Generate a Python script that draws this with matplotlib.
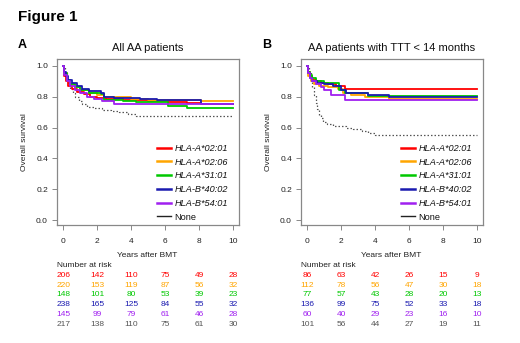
import matplotlib
matplotlib.use("Agg")
import matplotlib.pyplot as plt
from matplotlib.lines import Line2D
from matplotlib.transforms import blended_transform_factory

plt.rcParams['font.family'] = ['Liberation Sans', 'DejaVu Sans']

labels = ["HLA-A*02:01", "HLA-A*02:06", "HLA-A*31:01", "HLA-B*40:02", "HLA-B*54:01", "None"]
colors = ["#FF0000", "#FFA500", "#00C800", "#1A1AB0", "#A020F0", "#555555"]
risk_times = [0, 2, 4, 6, 8, 10]

# Panel A: all AA patients (time in years, survival)
a_red_t = [0, 0.05, 0.15, 0.3, 0.5, 0.8, 1.2, 1.6, 2.0, 2.5, 3.5, 5.0, 6.2, 7.3, 8.1, 10]
a_red_s = [1, 0.93, 0.90, 0.87, 0.85, 0.83, 0.815, 0.80, 0.79, 0.785, 0.775, 0.77, 0.765, 0.76, 0.75, 0.75]
a_orange_t = [0, 0.05, 0.2, 0.4, 0.7, 1.0, 1.5, 2.0, 2.4, 3.0, 4.0, 5.0, 7.0, 8.1, 10]
a_orange_s = [1, 0.95, 0.91, 0.88, 0.86, 0.84, 0.82, 0.81, 0.80, 0.795, 0.785, 0.78, 0.775, 0.77, 0.77]
a_green_t = [0, 0.05, 0.2, 0.4, 0.7, 1.0, 1.5, 2.2, 2.4, 3.5, 4.3, 6.2, 7.3, 10]
a_green_s = [1, 0.95, 0.91, 0.88, 0.86, 0.84, 0.82, 0.815, 0.78, 0.77, 0.765, 0.74, 0.725, 0.725]
a_blue_t = [0, 0.05, 0.15, 0.3, 0.5, 0.8, 1.1, 1.5, 2.2, 2.4, 3.0, 4.5, 5.5, 8.1, 10]
a_blue_s = [1, 0.96, 0.93, 0.91, 0.89, 0.87, 0.85, 0.835, 0.825, 0.795, 0.79, 0.785, 0.78, 0.755, 0.755]
a_purple_t = [0, 0.05, 0.2, 0.4, 0.7, 1.0, 1.4, 1.8, 2.3, 3.0, 10]
a_purple_s = [1, 0.94, 0.90, 0.87, 0.84, 0.82, 0.80, 0.785, 0.77, 0.755, 0.755]
a_none_t = [0, 0.1, 0.2, 0.3, 0.4, 0.55, 0.7, 0.9, 1.1, 1.4, 1.8, 2.3, 2.8, 3.3, 3.8, 4.3, 10]
a_none_s = [1, 0.95, 0.91, 0.88, 0.85, 0.82, 0.80, 0.77, 0.75, 0.735, 0.725, 0.715, 0.705, 0.70, 0.69, 0.677, 0.677]

# Panel B: AA patients with TTT < 14 months
b_red_t = [0, 0.05, 0.15, 0.3, 0.5, 0.8, 1.2, 1.7, 2.2, 10]
b_red_s = [1, 0.96, 0.93, 0.91, 0.90, 0.89, 0.88, 0.87, 0.85, 0.85]
b_orange_t = [0, 0.05, 0.2, 0.4, 0.7, 1.2, 1.8, 2.1, 2.6, 3.4, 4.8, 10]
b_orange_s = [1, 0.93, 0.90, 0.88, 0.87, 0.86, 0.85, 0.82, 0.81, 0.795, 0.787, 0.787]
b_green_t = [0, 0.05, 0.15, 0.3, 0.5, 1.0, 1.85, 2.2, 3.6, 10]
b_green_s = [1, 0.96, 0.94, 0.92, 0.90, 0.89, 0.84, 0.825, 0.807, 0.807]
b_blue_t = [0, 0.05, 0.15, 0.3, 0.6, 1.0, 1.5, 2.0, 2.3, 3.6, 4.8, 10]
b_blue_s = [1, 0.95, 0.92, 0.90, 0.89, 0.88, 0.87, 0.84, 0.82, 0.81, 0.80, 0.80]
b_purple_t = [0, 0.05, 0.15, 0.3, 0.5, 0.8, 1.0, 1.4, 2.2, 10]
b_purple_s = [1, 0.95, 0.92, 0.90, 0.88, 0.86, 0.84, 0.81, 0.78, 0.78]
b_none_t = [0, 0.1, 0.2, 0.3, 0.4, 0.5, 0.6, 0.7, 0.8, 0.95, 1.15, 1.5, 2.3, 2.7, 3.2, 3.6, 4.0, 10]
b_none_s = [1, 0.96, 0.92, 0.86, 0.81, 0.76, 0.72, 0.68, 0.66, 0.635, 0.62, 0.61, 0.60, 0.59, 0.58, 0.565, 0.55, 0.55]

# Number at risk
a_risk_red = [206, 142, 110, 75, 49, 28]
a_risk_orange = [220, 153, 119, 87, 56, 32]
a_risk_green = [148, 101, 80, 53, 39, 23]
a_risk_blue = [238, 165, 125, 84, 55, 32]
a_risk_purple = [145, 99, 79, 61, 46, 28]
a_risk_none = [217, 138, 110, 75, 61, 30]
b_risk_red = [86, 63, 42, 26, 15, 9]
b_risk_orange = [112, 78, 56, 47, 30, 18]
b_risk_green = [77, 57, 43, 28, 20, 13]
b_risk_blue = [136, 99, 75, 52, 33, 18]
b_risk_purple = [60, 40, 29, 23, 16, 10]
b_risk_none = [101, 56, 44, 27, 19, 11]

W, H = 520, 343
fig = plt.figure(figsize=(W / 100, H / 100), dpi=100)

def fy(py):
    return 1 - py / H

panels = [
    dict(left=57, title="All AA patients", letter="A", letter_x=18, ylab_x=28,
         curves=[(a_red_t, a_red_s), (a_orange_t, a_orange_s), (a_green_t, a_green_s),
                 (a_blue_t, a_blue_s), (a_purple_t, a_purple_s), (a_none_t, a_none_s)],
         risk=[a_risk_red, a_risk_orange, a_risk_green, a_risk_blue, a_risk_purple, a_risk_none]),
    dict(left=301, title="AA patients with TTT < 14 months", letter="B", letter_x=262, ylab_x=272,
         curves=[(b_red_t, b_red_s), (b_orange_t, b_orange_s), (b_green_t, b_green_s),
                 (b_blue_t, b_blue_s), (b_purple_t, b_purple_s), (b_none_t, b_none_s)],
         risk=[b_risk_red, b_risk_orange, b_risk_green, b_risk_blue, b_risk_purple, b_risk_none]),
]

ax_w = 182
top_px, bot_px = 59, 225

fig.text(18 / W, fy(17), "Figure 1", fontsize=11, fontweight="bold", ha="left", va="center")

for p in panels:
    ax = fig.add_axes([p["left"] / W, fy(bot_px), ax_w / W, (bot_px - top_px) / H])
    t, s = p["curves"][5]
    ax.step(t, s, where="post", color="#555555", lw=0.9, ls=(0, (1.2, 1.6)))
    for (t, s), c in zip(p["curves"][:5], colors[:5]):
        ax.step(t, s, where="post", color=c, lw=1.3)
    ax.set_xlim(-0.37, 10.36)
    ax.set_ylim(-0.03, 1.043)
    ax.set_xticks(risk_times)
    ax.set_yticks([0.0, 0.2, 0.4, 0.6, 0.8, 1.0])
    ax.set_yticklabels(["0.0", "0.2", "0.4", "0.6", "0.8", "1.0"])
    for sp in ax.spines.values():
        sp.set_color("#888888")
        sp.set_linewidth(0.9)
    ax.tick_params(axis="both", labelsize=6, length=3.5, width=0.7, color="#888888",
                   labelcolor="#222222")
    ax.tick_params(axis="x", pad=6)
    ax.tick_params(axis="y", pad=3)
    ax.set_ylabel("Overall survival", fontsize=6, color="#222222")
    ax.yaxis.set_label_coords(-(p["left"] - p["ylab_x"]) / ax_w, 0.5)
    ax.set_title(p["title"], fontsize=8, pad=6, color="#111111")
    fig.text(p["letter_x"] / W, fy(45), p["letter"], fontsize=9, fontweight="bold",
             ha="left", va="center")

    handles = [Line2D([0], [0], color=c, lw=1.8) for c in colors[:5]]
    handles.append(Line2D([0], [0], color="#222222", lw=1))
    leg = ax.legend(handles, labels, loc="lower right", bbox_to_anchor=(0.94, 0.02),
                    frameon=False, fontsize=6.6, handlelength=1.55, handletextpad=0.4,
                    labelspacing=0.52, borderaxespad=0, borderpad=0)
    for txt in leg.get_texts()[:5]:
        txt.set_fontstyle("italic")
    for txt in leg.get_texts():
        txt.set_color("#111111")

    trans = blended_transform_factory(ax.transData, fig.transFigure)
    fig.text((p["left"] + ax_w / 2 - 1) / W, fy(255.7), "Years after BMT", fontsize=6,
             ha="center", va="center", color="#222222")
    fig.text(p["left"] / W, fy(265.7), "Number at risk", fontsize=6, ha="left", va="center",
             color="#222222")
    row_y = [275.7, 285.3, 295.0, 304.7, 314.3, 324.0]
    for vals, c, ry in zip(p["risk"], colors, row_y):
        for tx, v in zip(risk_times, vals):
            ax.text(tx, fy(ry), str(v), transform=trans, fontsize=6, color=c,
                    ha="center", va="center")

fig.savefig("out.png", dpi=100)
